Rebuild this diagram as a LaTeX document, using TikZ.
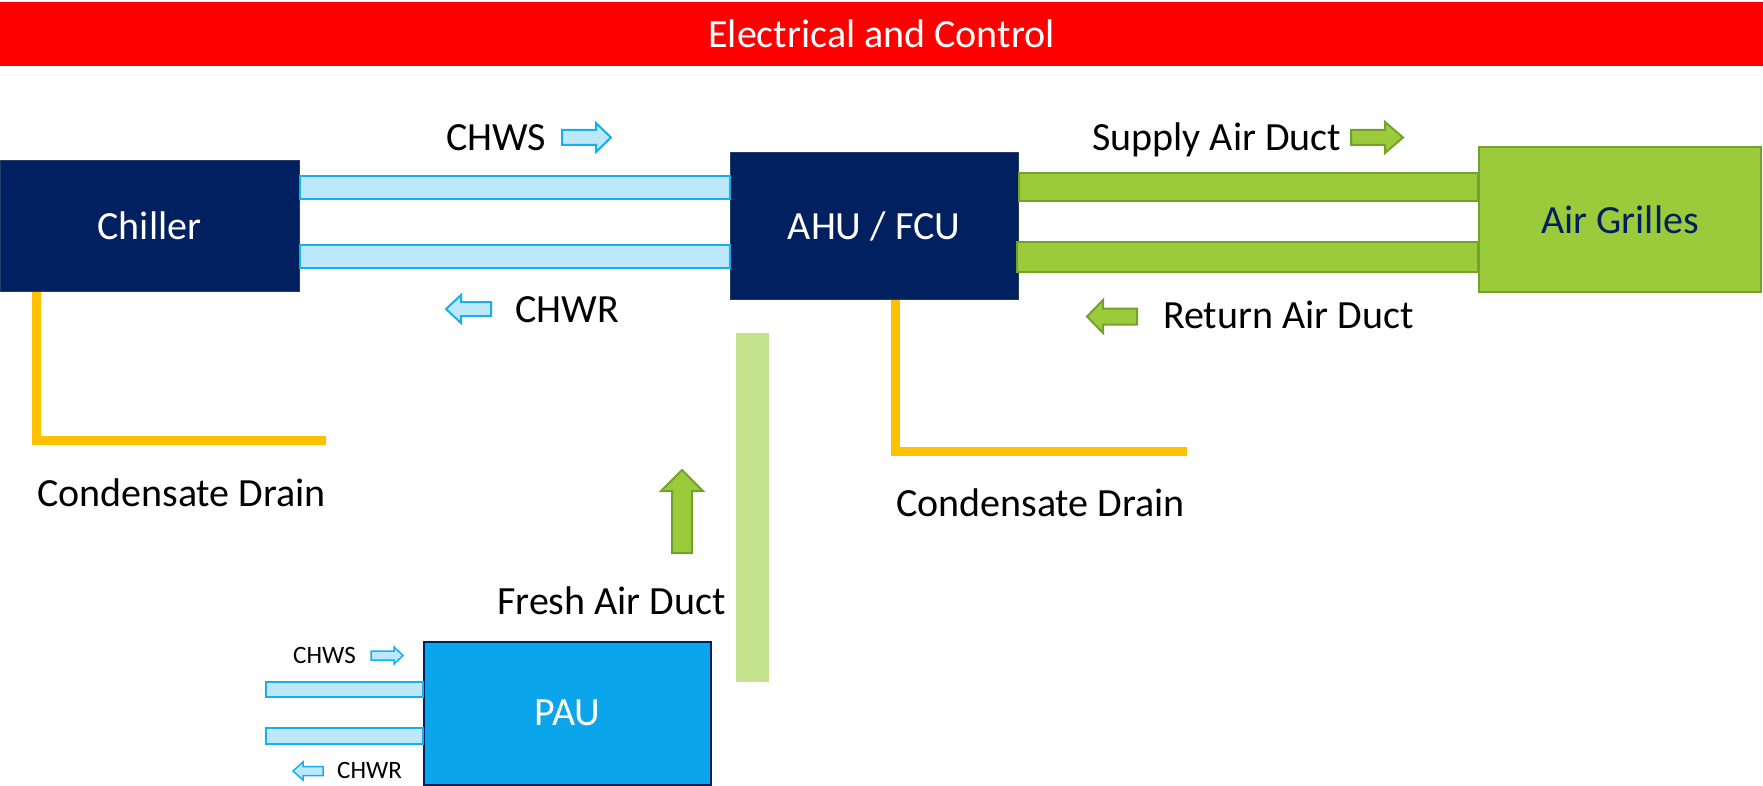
\documentclass[tikz,border=0pt]{standalone}
\usepackage{fontspec}
\setmainfont{Carlito}
\usetikzlibrary{calc}
\definecolor{navy}{HTML}{002060}
\definecolor{pipefill}{HTML}{BDE8FB}
\definecolor{pipeline}{HTML}{17AEEC}
\definecolor{grfill}{HTML}{9BCB3B}
\definecolor{grline}{HTML}{72A22C}
\definecolor{ltgreen}{HTML}{C4E18E}
\definecolor{drainc}{HTML}{FFC000}
\definecolor{barred}{HTML}{FF0000}
\definecolor{paublue}{HTML}{0AA5EB}
\newcommand\myarrH[7]{\draw[#1] (#2,{#5-#6}) -- (#3,{#5-#6}) -- (#3,{#5-#7}) -- (#4,#5) -- (#3,{#5+#7}) -- (#3,{#5+#6}) -- (#2,{#5+#6}) -- cycle;}
\newcommand\myarrV[7]{\draw[#1] ({#5-#6},#2) -- ({#5-#6},#3) -- ({#5-#7},#3) -- (#5,#4) -- ({#5+#7},#3) -- ({#5+#6},#3) -- ({#5+#6},#2) -- cycle;}
\tikzset{
  big/.style={font=\fontsize{40}{48}\selectfont, inner sep=0pt},
  small/.style={font=\fontsize{25}{30}\selectfont, inner sep=0pt},
  navybox/.style={fill=navy, draw=navy!70!gray, line width=1pt, text=white, font=\fontsize{40}{48}\selectfont, inner sep=0pt},
  pipe/.style={fill=pipefill, draw=pipeline, line width=2pt},
  gduct/.style={fill=grfill, draw=grline, line width=2pt},
  drain/.style={draw=drainc, line width=9pt},
}
\begin{document}
\begin{tikzpicture}[x=1pt,y=-1pt]
\useasboundingbox (0,0) rectangle (1763,786);
% top bar
\node[fill=barred, minimum width=1763pt, minimum height=64pt, inner sep=0pt, text=white, font=\fontsize{40}{48}\selectfont] (bar) at (881.5,34) {Electrical and Control};
% main boxes
\node[navybox, minimum width=299pt, minimum height=131pt] (chiller) at (149.5,226) {Chiller};
\node[navybox, minimum width=288pt, minimum height=146pt] (ahu) at (874,226) {AHU / FCU};
\node[fill=grfill, draw=grline, line width=2pt, minimum width=282pt, minimum height=145pt, inner sep=0pt, text=navy, font=\fontsize{40}{48}\selectfont] (grilles) at (1620,219.5) {Air Grilles};
\node[fill=paublue, draw=navy, line width=2pt, minimum width=287pt, minimum height=143pt, inner sep=0pt, text=white, font=\fontsize{40}{48}\selectfont] (pau) at (567.5,713) {PAU};
\node[fill=ltgreen, minimum width=33pt, minimum height=349pt, inner sep=0pt] (fresh) at (752.5,507.5) {};
% chilled water pipes
\draw[pipe] ($(chiller.north east)+(0,16)$) rectangle ($(chiller.north east -| ahu.west)+(0,39)$);
\draw[pipe] ($(chiller.north east)+(0,85)$) rectangle ($(chiller.north east -| ahu.west)+(0,108)$);
% air ducts
\draw[gduct] ($(ahu.north east)+(0,21)$) rectangle ($(ahu.north east -| grilles.west)+(0,49)$);
\draw[gduct] ($(ahu.north east)+(-2,90)$) rectangle ($(ahu.north east -| grilles.west)+(0,119)$);
% PAU pipes
\coordinate (ps) at (266,682);
\coordinate (pr) at (266,728);
\draw[pipe, line width=1.5pt] (ps) rectangle ($(ps -| pau.west)+(0,15)$);
\draw[pipe, line width=1.5pt] (pr) rectangle ($(pr -| pau.west)+(0,16)$);
% condensate drains
\coordinate (cd1) at (326,440);
\coordinate (cd2) at (1187,451);
\draw[drain] ([xshift=37pt]chiller.south west) |- (cd1);
\draw[drain] ([xshift=166pt]ahu.south west) |- (cd2);
% labels
\node[big, anchor=base west] (chws) at (446,151) {CHWS};
\node[big, anchor=base west] (chwr) at (515,322) {CHWR};
\node[big, anchor=base west] (sad) at (1092,151) {Supply Air Duct};
\node[big, anchor=base west] (rad) at (1163,328) {Return Air Duct};
\node[big, anchor=base west] (cdl1) at (37,506) {Condensate Drain};
\node[big, anchor=base west] (cdl2) at (896,516) {Condensate Drain};
\node[big, anchor=base west] (fad) at (497,614) {Fresh Air Duct};
\node[small, anchor=base west] (pchws) at (293,663) {CHWS};
\node[small, anchor=base west] (pchwr) at (337,778) {CHWR};
% flow arrows
\myarrH{pipe}{562}{596}{611}{137.5}{7.5}{14.5}
\myarrH{pipe}{491}{461}{446}{309}{7}{14}
\myarrH{gduct}{1351}{1385}{1403}{137.5}{7.5}{15.5}
\myarrH{gduct}{1137}{1103}{1087}{316.5}{8}{16.5}
\myarrV{gduct}{553}{491}{470}{682}{10}{21}
\myarrH{pipe, line width=1.5pt}{371}{394}{403}{655.5}{4.5}{8.5}
\myarrH{pipe, line width=1.5pt}{323}{303}{293}{771}{4.5}{9}
\end{tikzpicture}
\end{document}
